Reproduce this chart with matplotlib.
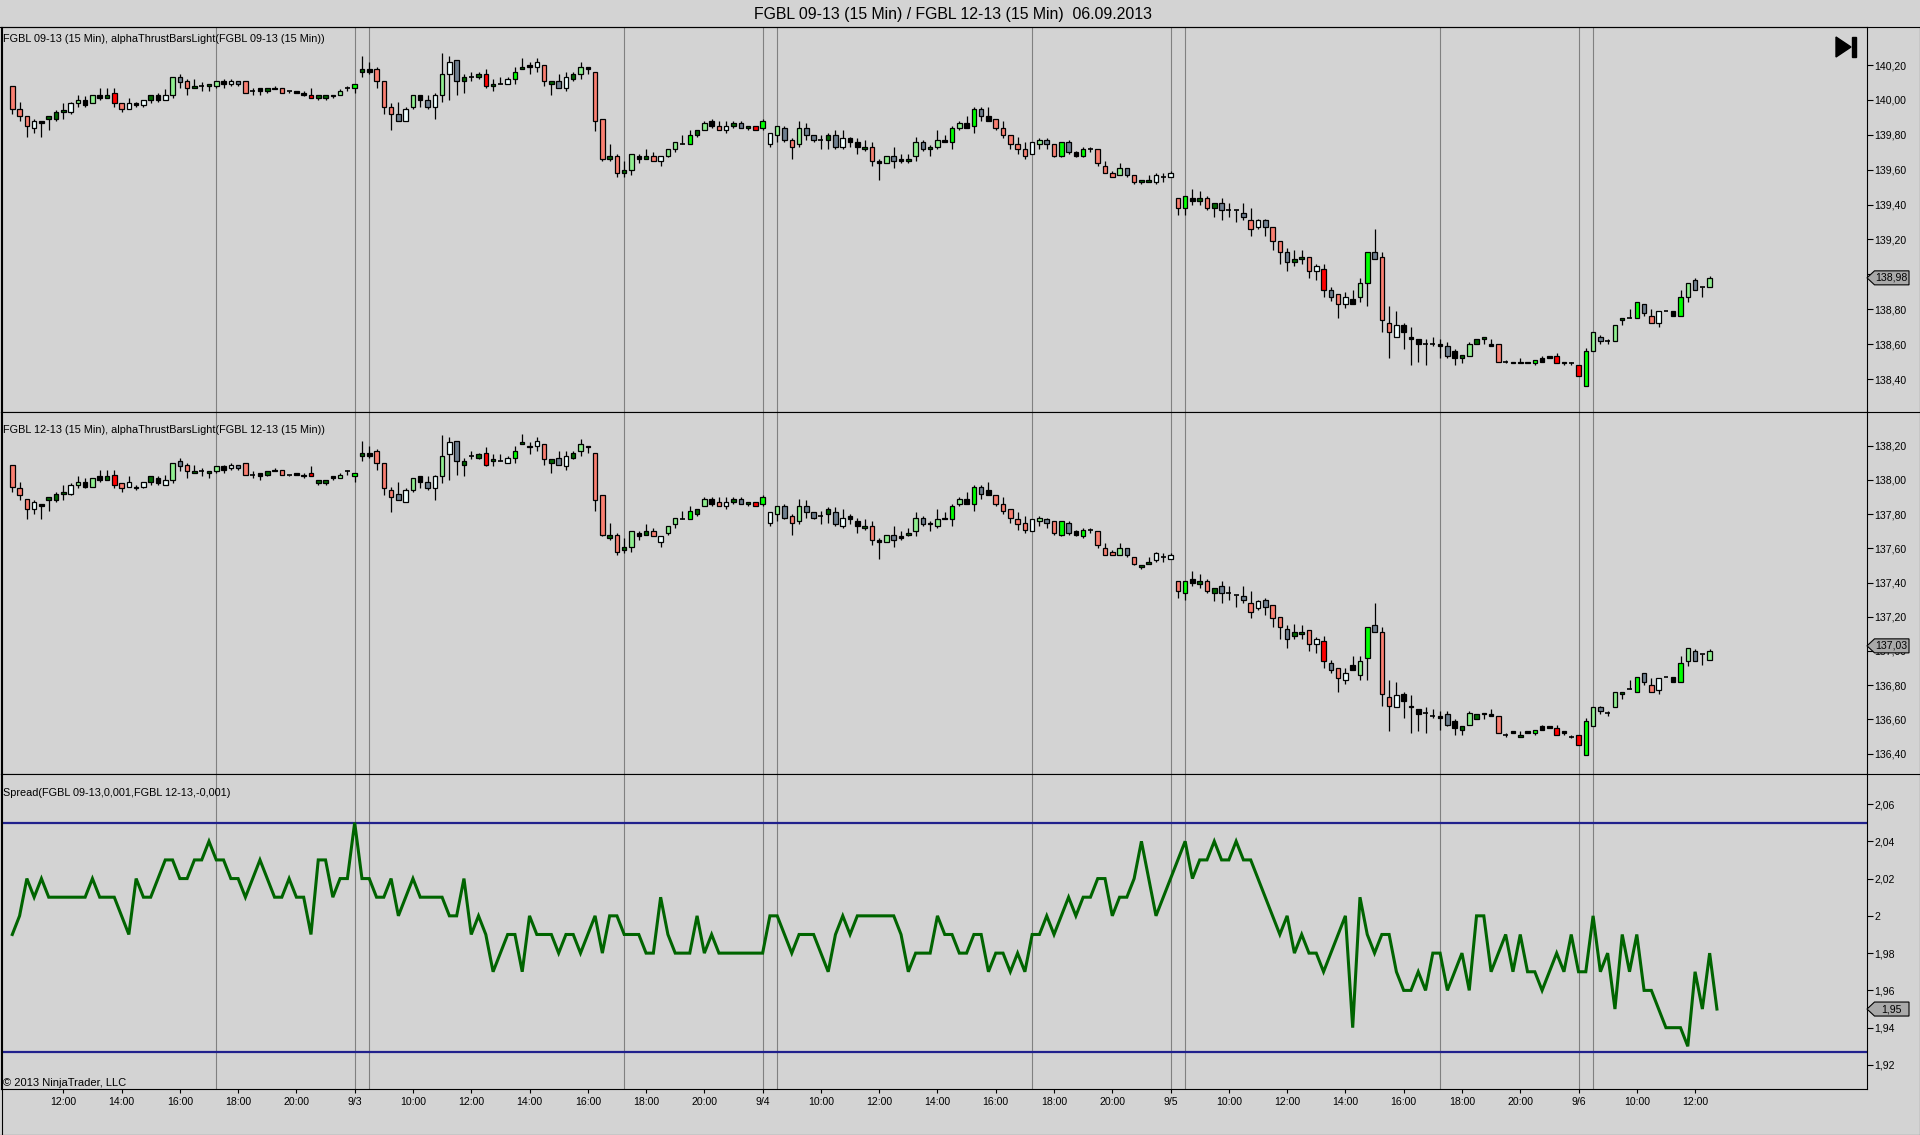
import matplotlib
matplotlib.use("Agg")
import matplotlib.pyplot as plt
from matplotlib.patches import Polygon, Rectangle
from matplotlib.lines import Line2D

plt.rcParams["font.family"] = ["Liberation Sans", "DejaVu Sans"]

# FGBL 09-13, 15 min bars, 02.09.2013 10:15 .. 06.09.2013 12:45
sep_open = [
    140.08, 139.95, 139.91, 139.84, 139.88, 139.89, 139.89, 139.93, 139.93, 139.98,
    140.00, 139.98, 140.03, 140.01, 140.04, 139.98, 139.95, 139.98, 139.97, 140.00,
    140.03, 140.00, 140.03, 140.13, 140.11, 140.07, 140.08, 140.08, 140.08, 140.11,
    140.09, 140.11, 140.11, 140.05, 140.07, 140.05, 140.07, 140.07, 140.05, 140.05,
    140.04, 140.03, 140.01, 140.01, 140.03, 140.03, 140.07, 140.07, 140.16, 140.18,
    140.18, 140.11, 139.96, 139.92, 139.88, 139.96, 140.03, 140.00, 139.96, 140.03,
    140.15, 140.23, 140.11, 140.13, 140.13, 140.15, 140.08, 140.09, 140.09, 140.12,
    140.18, 140.20, 140.19, 140.20, 140.09, 140.11, 140.07, 140.12, 140.15, 140.19,
    140.16, 139.89, 139.66, 139.68, 139.58, 139.60, 139.68, 139.66, 139.68, 139.65,
    139.68, 139.72, 139.75, 139.75, 139.80, 139.83, 139.88, 139.85, 139.83, 139.85,
    139.87, 139.84, 139.85, 139.84, 139.75, 139.80, 139.84, 139.77, 139.75, 139.84,
    139.80, 139.77, 139.77, 139.80, 139.73, 139.78, 139.76, 139.72, 139.73, 139.65,
    139.64, 139.68, 139.66, 139.65, 139.68, 139.76, 139.72, 139.73, 139.77, 139.76,
    139.84, 139.87, 139.85, 139.95, 139.91, 139.89, 139.84, 139.80, 139.75, 139.72,
    139.69, 139.75, 139.77, 139.75, 139.68, 139.76, 139.70, 139.68, 139.72, 139.72,
    139.62, 139.58, 139.57, 139.61, 139.57, 139.53, 139.53, 139.53, 139.56, 139.56,
    139.44, 139.38, 139.44, 139.42, 139.44, 139.38, 139.41, 139.37, 139.37, 139.35,
    139.31, 139.27, 139.31, 139.27, 139.19, 139.13, 139.07, 139.09, 139.10, 139.02,
    139.03, 138.91, 138.89, 138.83, 138.86, 138.87, 138.95, 139.13, 139.10, 138.72,
    138.64, 138.71, 138.64, 138.63, 138.60, 138.60, 138.60, 138.59, 138.56, 138.52,
    138.53, 138.60, 138.63, 138.60, 138.60, 138.50, 138.50, 138.49, 138.50, 138.49,
    138.52, 138.53, 138.53, 138.50, 138.49, 138.48, 138.36, 138.56, 138.64, 138.62,
    138.62, 138.74, 138.75, 138.75, 138.83, 138.76, 138.72, 138.79, 138.79, 138.76,
    138.87, 138.97, 138.93, 138.93,
]
sep_high = [
    140.08, 139.99, 139.91, 139.89, 139.88, 139.91, 139.94, 139.98, 139.99, 140.03,
    140.02, 140.03, 140.07, 140.07, 140.07, 139.98, 140.01, 139.99, 140.00, 140.03,
    140.04, 140.06, 140.13, 140.15, 140.12, 140.12, 140.10, 140.09, 140.11, 140.12,
    140.12, 140.11, 140.11, 140.07, 140.07, 140.07, 140.08, 140.07, 140.05, 140.05,
    140.05, 140.07, 140.03, 140.03, 140.03, 140.06, 140.08, 140.09, 140.25, 140.22,
    140.19, 140.11, 139.98, 139.99, 139.96, 140.03, 140.03, 140.03, 140.04, 140.27,
    140.25, 140.23, 140.15, 140.16, 140.16, 140.18, 140.12, 140.13, 140.13, 140.19,
    140.24, 140.22, 140.24, 140.20, 140.11, 140.15, 140.16, 140.16, 140.22, 140.19,
    140.16, 139.89, 139.75, 139.69, 139.65, 139.69, 139.69, 139.72, 139.70, 139.68,
    139.72, 139.76, 139.80, 139.83, 139.83, 139.88, 139.89, 139.88, 139.88, 139.88,
    139.88, 139.85, 139.85, 139.89, 139.81, 139.85, 139.85, 139.78, 139.88, 139.87,
    139.80, 139.80, 139.81, 139.83, 139.83, 139.79, 139.78, 139.77, 139.76, 139.66,
    139.68, 139.73, 139.69, 139.69, 139.79, 139.77, 139.74, 139.83, 139.80, 139.85,
    139.88, 139.91, 139.96, 139.96, 139.96, 139.89, 139.88, 139.80, 139.79, 139.76,
    139.76, 139.78, 139.78, 139.75, 139.76, 139.77, 139.71, 139.73, 139.73, 139.72,
    139.65, 139.59, 139.64, 139.61, 139.57, 139.54, 139.57, 139.58, 139.58, 139.59,
    139.44, 139.45, 139.49, 139.48, 139.45, 139.41, 139.44, 139.41, 139.37, 139.41,
    139.38, 139.32, 139.32, 139.27, 139.19, 139.15, 139.14, 139.14, 139.10, 139.06,
    139.06, 138.93, 138.89, 138.90, 138.91, 138.98, 139.13, 139.26, 139.13, 138.82,
    138.79, 138.72, 138.70, 138.63, 138.63, 138.64, 138.63, 138.61, 138.57, 138.54,
    138.61, 138.63, 138.64, 138.63, 138.60, 138.51, 138.50, 138.52, 138.50, 138.51,
    138.53, 138.53, 138.55, 138.50, 138.50, 138.48, 138.58, 138.67, 138.65, 138.63,
    138.71, 138.75, 138.80, 138.84, 138.83, 138.80, 138.79, 138.79, 138.79, 138.91,
    138.95, 138.98, 138.93, 138.99,
]
sep_low = [
    139.92, 139.88, 139.79, 139.81, 139.79, 139.83, 139.88, 139.89, 139.92, 139.96,
    139.96, 139.98, 140.00, 140.01, 139.96, 139.93, 139.95, 139.96, 139.96, 139.98,
    139.99, 140.00, 140.01, 140.07, 140.03, 140.07, 140.05, 140.05, 140.07, 140.07,
    140.08, 140.08, 140.04, 140.03, 140.03, 140.04, 140.06, 140.04, 140.04, 140.04,
    140.02, 140.01, 140.00, 140.00, 140.01, 140.03, 140.05, 140.04, 140.13, 140.15,
    140.07, 139.92, 139.83, 139.88, 139.88, 139.95, 139.96, 139.95, 139.89, 139.99,
    140.00, 140.03, 140.04, 140.11, 140.12, 140.07, 140.05, 140.09, 140.09, 140.09,
    140.18, 140.15, 140.16, 140.08, 140.03, 140.07, 140.05, 140.11, 140.12, 140.15,
    139.82, 139.65, 139.65, 139.56, 139.56, 139.57, 139.64, 139.66, 139.65, 139.62,
    139.67, 139.70, 139.75, 139.75, 139.79, 139.83, 139.84, 139.83, 139.81, 139.84,
    139.84, 139.83, 139.83, 139.83, 139.73, 139.76, 139.76, 139.66, 139.73, 139.77,
    139.76, 139.72, 139.72, 139.72, 139.72, 139.73, 139.69, 139.71, 139.62, 139.54,
    139.64, 139.61, 139.64, 139.64, 139.65, 139.71, 139.68, 139.72, 139.76, 139.72,
    139.83, 139.84, 139.81, 139.88, 139.88, 139.83, 139.78, 139.72, 139.69, 139.66,
    139.69, 139.72, 139.72, 139.67, 139.67, 139.69, 139.67, 139.67, 139.70, 139.62,
    139.58, 139.56, 139.57, 139.56, 139.52, 139.52, 139.53, 139.52, 139.53, 139.56,
    139.34, 139.34, 139.40, 139.40, 139.37, 139.33, 139.31, 139.33, 139.30, 139.31,
    139.22, 139.26, 139.22, 139.14, 139.06, 139.02, 139.05, 139.06, 138.98, 138.97,
    138.87, 138.85, 138.75, 138.81, 138.83, 138.84, 138.82, 139.09, 138.67, 138.52,
    138.64, 138.57, 138.48, 138.50, 138.48, 138.59, 138.52, 138.52, 138.48, 138.49,
    138.53, 138.60, 138.60, 138.59, 138.50, 138.49, 138.49, 138.49, 138.49, 138.48,
    138.50, 138.52, 138.49, 138.48, 138.48, 138.42, 138.36, 138.56, 138.60, 138.60,
    138.62, 138.71, 138.75, 138.75, 138.76, 138.72, 138.70, 138.79, 138.76, 138.76,
    138.84, 138.91, 138.87, 138.93,
]
sep_close = [
    139.95, 139.91, 139.85, 139.88, 139.87, 139.91, 139.93, 139.94, 139.98, 140.00,
    139.97, 140.03, 140.01, 140.03, 139.98, 139.95, 139.98, 139.97, 140.00, 140.03,
    140.00, 140.03, 140.13, 140.10, 140.07, 140.08, 140.08, 140.09, 140.11, 140.09,
    140.11, 140.09, 140.04, 140.05, 140.05, 140.07, 140.06, 140.04, 140.05, 140.04,
    140.03, 140.01, 140.03, 140.03, 140.02, 140.05, 140.07, 140.09, 140.18, 140.16,
    140.11, 139.96, 139.92, 139.88, 139.95, 140.03, 140.00, 139.96, 140.03, 140.15,
    140.22, 140.11, 140.13, 140.13, 140.15, 140.08, 140.09, 140.09, 140.12, 140.16,
    140.19, 140.19, 140.22, 140.11, 140.11, 140.07, 140.13, 140.15, 140.19, 140.18,
    139.88, 139.66, 139.68, 139.58, 139.60, 139.69, 139.66, 139.68, 139.65, 139.68,
    139.72, 139.76, 139.75, 139.80, 139.83, 139.87, 139.85, 139.83, 139.85, 139.87,
    139.84, 139.85, 139.83, 139.88, 139.81, 139.85, 139.77, 139.73, 139.84, 139.80,
    139.77, 139.77, 139.80, 139.73, 139.78, 139.76, 139.73, 139.73, 139.65, 139.64,
    139.68, 139.65, 139.65, 139.66, 139.76, 139.72, 139.73, 139.77, 139.76, 139.84,
    139.87, 139.84, 139.95, 139.91, 139.88, 139.84, 139.80, 139.75, 139.72, 139.68,
    139.76, 139.77, 139.75, 139.68, 139.76, 139.70, 139.68, 139.72, 139.72, 139.64,
    139.58, 139.56, 139.61, 139.57, 139.53, 139.54, 139.54, 139.57, 139.56, 139.58,
    139.38, 139.45, 139.42, 139.44, 139.38, 139.41, 139.37, 139.37, 139.37, 139.33,
    139.26, 139.31, 139.27, 139.19, 139.13, 139.07, 139.09, 139.10, 139.02, 139.05,
    138.91, 138.87, 138.83, 138.87, 138.83, 138.95, 139.13, 139.09, 138.74, 138.67,
    138.71, 138.67, 138.63, 138.60, 138.60, 138.60, 138.59, 138.53, 138.52, 138.54,
    138.60, 138.63, 138.64, 138.59, 138.50, 138.50, 138.49, 138.50, 138.49, 138.51,
    138.50, 138.52, 138.49, 138.49, 138.49, 138.42, 138.56, 138.67, 138.62, 138.62,
    138.71, 138.75, 138.75, 138.84, 138.78, 138.72, 138.79, 138.79, 138.76, 138.87,
    138.95, 138.91, 138.93, 138.98,
]
# alphaThrustBarsLight colour per bar:
# S salmon, R red, L light green, G lime, D dark green, W white, A slate grey, K black, X doji
bar_colours = (
    "SSSWKDDDWL" "KLKDRSWKWD" "KWLASDXDLK" "WASXKDKSXK" "KRDDKLXGDK"
    "SSSAWLKAWL" "WADXDRDXWG" "DKWSDAWDLK" "SSDSDLKDSW" "LLXGDLKSWD"
    "ADRGWLASLA" "AXDAWKKDSK" "LAKDLADLKG" "LKGAKSSSSS" "WLASGAKGXS"
    "SSLASDDWXW" "SGKDSDAXXA" "SWASSADDSW" "RASWKLGASS" "WKKKXXKAKD"
    "LDDKSXKDKG" "KKRKXRGLAX" "LDXGASWXKG" "LAXL"
)
# spread 09-13 minus 12-13 per bar, last entry is the live value
spread = [
    1.99, 2.00, 2.02, 2.01, 2.02, 2.01, 2.01, 2.01, 2.01, 2.01,
    2.01, 2.02, 2.01, 2.01, 2.01, 2.00, 1.99, 2.02, 2.01, 2.01,
    2.02, 2.03, 2.03, 2.02, 2.02, 2.03, 2.03, 2.04, 2.03, 2.03,
    2.02, 2.02, 2.01, 2.02, 2.03, 2.02, 2.01, 2.01, 2.02, 2.01,
    2.01, 1.99, 2.03, 2.03, 2.01, 2.02, 2.02, 2.05, 2.02, 2.02,
    2.01, 2.01, 2.02, 2.00, 2.01, 2.02, 2.01, 2.01, 2.01, 2.01,
    2.00, 2.00, 2.02, 1.99, 2.00, 1.99, 1.97, 1.98, 1.99, 1.99,
    1.97, 2.00, 1.99, 1.99, 1.99, 1.98, 1.99, 1.99, 1.98, 1.99,
    2.00, 1.98, 2.00, 2.00, 1.99, 1.99, 1.99, 1.98, 1.98, 2.01,
    1.99, 1.98, 1.98, 1.98, 2.00, 1.98, 1.99, 1.98, 1.98, 1.98,
    1.98, 1.98, 1.98, 1.98, 2.00, 2.00, 1.99, 1.98, 1.99, 1.99,
    1.99, 1.98, 1.97, 1.99, 2.00, 1.99, 2.00, 2.00, 2.00, 2.00,
    2.00, 2.00, 1.99, 1.97, 1.98, 1.98, 1.98, 2.00, 1.99, 1.99,
    1.98, 1.98, 1.99, 1.99, 1.97, 1.98, 1.98, 1.97, 1.98, 1.97,
    1.99, 1.99, 2.00, 1.99, 2.00, 2.01, 2.00, 2.01, 2.01, 2.02,
    2.02, 2.00, 2.01, 2.01, 2.02, 2.04, 2.02, 2.00, 2.01, 2.02,
    2.03, 2.04, 2.02, 2.03, 2.03, 2.04, 2.03, 2.03, 2.04, 2.03,
    2.03, 2.02, 2.01, 2.00, 1.99, 2.00, 1.98, 1.99, 1.98, 1.98,
    1.97, 1.98, 1.99, 2.00, 1.94, 2.01, 1.99, 1.98, 1.99, 1.99,
    1.97, 1.96, 1.96, 1.97, 1.96, 1.98, 1.98, 1.96, 1.97, 1.98,
    1.96, 2.00, 2.00, 1.97, 1.98, 1.99, 1.97, 1.99, 1.97, 1.97,
    1.96, 1.97, 1.98, 1.97, 1.99, 1.97, 1.97, 2.00, 1.97, 1.98,
    1.95, 1.99, 1.97, 1.99, 1.96, 1.96, 1.95, 1.94, 1.94, 1.94,
    1.93, 1.97, 1.95, 1.98, 1.95,
]
upper_band, lower_band = 2.05, 1.927
last_sep, last_dec = 138.98, 137.03

tick_bars = [7, 15, 23, 31, 39,
             47, 55, 63, 71, 79, 87, 95,
             103, 111, 119, 127, 135, 143, 151,
             159, 167, 175, 183, 191, 199, 207,
             215, 223, 231]
tick_labels = ["12:00", "14:00", "16:00", "18:00", "20:00",
               "9/3", "10:00", "12:00", "14:00", "16:00", "18:00", "20:00",
               "9/4", "10:00", "12:00", "14:00", "16:00", "18:00", "20:00",
               "9/5", "10:00", "12:00", "14:00", "16:00", "18:00", "20:00",
               "9/6", "10:00", "12:00"]
session_lines = [28, 47, 49, 84, 103, 105, 140, 159, 161, 196, 215, 217]

# FGBL 12-13 bars: the 09-13 bars less the spread of that bar
dec_open = [v - s for v, s in zip(sep_open, spread)]
dec_high = [v - s for v, s in zip(sep_high, spread)]
dec_low = [v - s for v, s in zip(sep_low, spread)]
dec_close = [v - s for v, s in zip(sep_close, spread)]

palette = {"S": "#fa8072", "R": "#ff0000", "L": "#90ee90", "G": "#00ff00",
           "D": "#006400", "W": "#f0ffff", "A": "#708090", "K": "#000000", "X": "#000000"}
bg = "#d3d3d3"

W, H = 1920, 1135
fig = plt.figure(figsize=(W / 100, H / 100), dpi=100, facecolor=bg)


def rect(top, bottom):
    return [1 / W, 1 - bottom / H, 1866 / W, (bottom - top) / H]


ax1 = fig.add_axes(rect(27, 412))
ax2 = fig.add_axes(rect(412, 774))
ax3 = fig.add_axes(rect(774, 1089))

for ax in (ax1, ax2, ax3):
    ax.set_facecolor(bg)
    ax.set_xlim(-1.55, 254.6)
    for sp in ax.spines.values():
        sp.set_color("black")
        sp.set_linewidth(0.8)
    for b in session_lines:
        ax.axvline(b, color="#808080", lw=0.8, zorder=1)


def candles(ax, o, h, l, c):
    x = list(range(len(o)))
    ax.vlines(x, l, h, color="black", lw=0.9, zorder=2)
    for i in x:
        lo, hi = min(o[i], c[i]), max(o[i], c[i])
        code = bar_colours[i]
        if code == "X" or hi - lo < 0.004:
            ax.hlines(o[i], i - 0.33, i + 0.33, color="black", lw=1.2, zorder=3)
        else:
            ax.bar(i, hi - lo, 0.62, lo, color=palette[code], edgecolor="black",
                   linewidth=0.9, zorder=3)


candles(ax1, sep_open, sep_high, sep_low, sep_close)
candles(ax2, dec_open, dec_high, dec_low, dec_close)

ax3.plot(range(len(spread)), spread, color="#006400", lw=2.2,
         solid_joinstyle="miter", zorder=3)
ax3.axhline(upper_band, color="#20208c", lw=1.6, zorder=2)
ax3.axhline(lower_band, color="#20208c", lw=1.6, zorder=2)

ax1.set_ylim(138.211, 140.418)
ax2.set_ylim(136.281, 138.397)
ax3.set_ylim(1.9071, 2.0761)


def price_axis(ax, ticks, labels):
    ax.yaxis.tick_right()
    ax.set_yticks(ticks)
    ax.set_yticklabels(labels)
    ax.tick_params(axis="y", direction="out", length=4.3, width=0.8, pad=1.2,
                   labelsize=7.6, colors="black")


t1 = [138.4 + 0.2 * k for k in range(10)]
price_axis(ax1, t1, [f"{v:.2f}".replace(".", ",") for v in t1])
t2 = [136.4 + 0.2 * k for k in range(10)]
price_axis(ax2, t2, [f"{v:.2f}".replace(".", ",") for v in t2])
t3 = [1.92 + 0.02 * k for k in range(8)]
price_axis(ax3, t3, [f"{v:.2f}".replace(".", ",").rstrip("0").rstrip(",") for v in t3])

ax1.set_xticks([])
ax2.set_xticks([])
ax3.set_xticks(tick_bars)
ax3.set_xticklabels(tick_labels)
ax3.tick_params(axis="x", direction="out", length=3, width=0.8, pad=2.5,
                labelsize=7.6, colors="black")

# texts
fig.text(953 / W, 1 - 14.5 / H, "FGBL 09-13 (15 Min) / FGBL 12-13 (15 Min)  06.09.2013",
         ha="center", va="center", fontsize=11.4)
fig.text(3 / W, 1 - 39.3 / H, "FGBL 09-13 (15 Min), alphaThrustBarsLight(FGBL 09-13 (15 Min))",
         va="center", fontsize=7.8)
fig.text(3 / W, 1 - 430 / H, "FGBL 12-13 (15 Min), alphaThrustBarsLight(FGBL 12-13 (15 Min))",
         va="center", fontsize=7.8)
fig.text(3 / W, 1 - 792.5 / H, "Spread(FGBL 09-13,0,001,FGBL 12-13,-0,001)",
         va="center", fontsize=7.8)
fig.text(3 / W, 1 - 1082.7 / H, "\u00a9 2013 NinjaTrader, LLC", va="center", fontsize=8)


def value_tag(ax, value, text):
    fy = fig.transFigure.inverted().transform(ax.transData.transform((0, value)))[1]
    x0, x1, x2 = 1867 / W, 1874.5 / W, 1909 / W
    h = 7 / H
    pts = [(x0, fy), (x1, fy + h), (x2, fy + h), (x2, fy - h), (x1, fy - h)]
    fig.add_artist(Polygon(pts, closed=True, transform=fig.transFigure,
                           facecolor="#a9a9a9", edgecolor="black", lw=0.8, zorder=5))
    fig.text((x1 + x2) / 2, fy, text, ha="center", va="center", fontsize=7.6, zorder=6)


value_tag(ax1, last_sep, f"{last_sep:.2f}".replace(".", ","))
value_tag(ax2, last_dec, f"{last_dec:.2f}".replace(".", ","))
value_tag(ax3, spread[-1], f"{spread[-1]:.2f}".replace(".", ","))

# "go to last bar" button
fig.add_artist(Polygon([(1836 / W, 1 - 37 / H), (1836 / W, 1 - 57 / H), (1851 / W, 1 - 47 / H)],
                       closed=True, transform=fig.transFigure, color="black", zorder=5))
fig.add_artist(Rectangle((1852 / W, 1 - 57 / H), 4 / W, 20 / H,
                         transform=fig.transFigure, color="black", zorder=5))

# frame lines
def fline(xs, ys):
    fig.add_artist(Line2D([x / W for x in xs], [1 - y / H for y in ys],
                          transform=fig.transFigure, color="black", lw=0.8, zorder=4))


fline([0, W], [27, 27])
fline([1867, W], [412, 412])
fline([1867, W], [774, 774])
fline([0, W], [1134.5, 1134.5])
fline([1.5, 1.5], [27, 1135])
fline([1919.5, 1919.5], [27, 1135])

fig.savefig("out.png", dpi=100, facecolor=bg)
